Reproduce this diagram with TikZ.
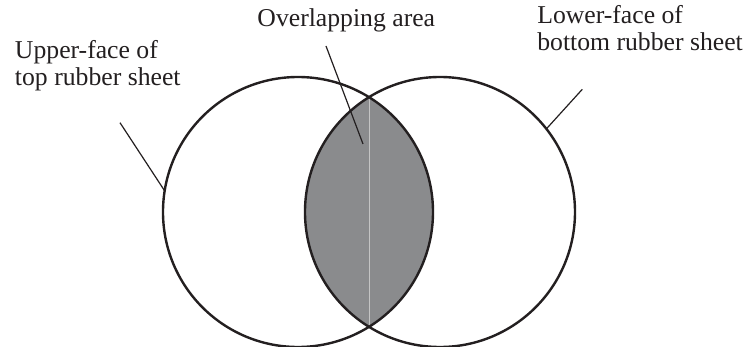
\documentclass[tikz,border=0pt]{standalone}
\usepackage{fontspec}
\setmainfont{Liberation Serif}
\definecolor{lensgray}{HTML}{8A8B8D}
\definecolor{seamgray}{HTML}{C4C4C4}
\definecolor{inkblack}{HTML}{231F20}
\begin{document}
\begin{tikzpicture}[x=1pt,y=-1pt,
  sheet/.style={circle,draw=inkblack,line width=2.4pt,minimum size=270pt,inner sep=0pt,outer sep=0pt},
  label/.style={font=\fontsize{25.7}{27.3}\selectfont,inner sep=0pt,outer sep=0pt,align=left,text=inkblack},
  leader/.style={draw=inkblack,line width=1.2pt}]
\useasboundingbox (0,0) rectangle (745,347);
% circles (shapes only first, for the lens fill)
\node[sheet,draw=none] (L) at (298,212) {};
\node[sheet,draw=none] (R) at (440,212) {};
\begin{scope}
  \clip (298,212) circle[radius=135pt];
  \fill[lensgray] (440,212) circle[radius=135pt];
\end{scope}
\coordinate (itop) at (369,97.2);
\coordinate (ibot) at (369,326.8);
\draw[seamgray,line width=0.9pt] (itop) -- (ibot);
\node[sheet] at (298,212) {};
\node[sheet] at (440,212) {};
% labels
\node[label,anchor=base] (ovl) at (346.3,26.7) {Overlapping area};
\node[label,anchor=base west] (up) at (15,86) {Upper-face of\\top rubber sheet};
\node[label,anchor=base west] (low) at (537.3,51) {Lower-face of\\bottom rubber sheet};
% leaders
\coordinate (ovlstart) at (326,46);
\coordinate (ovlend) at (363,144);
\coordinate (upstart) at (120,122.7);
\coordinate (lowstart) at (582.3,89.3);
\draw[leader] (ovlstart) -- (ovlend);
\draw[leader] (upstart) -- (L.171);
\draw[leader] (lowstart) -- (R.38);
\end{tikzpicture}
\end{document}
